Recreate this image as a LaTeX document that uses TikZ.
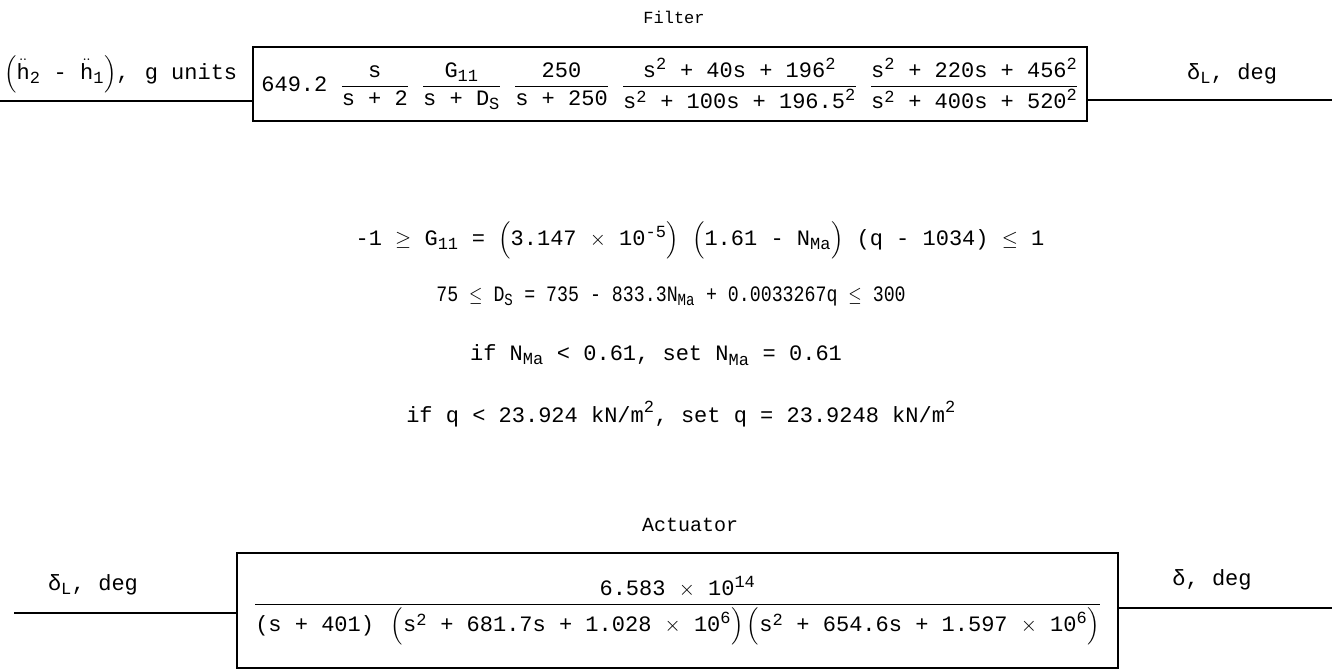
\documentclass[tikz,border=0pt]{standalone}
\usepackage{amsmath}
\usepackage{graphicx}
\usepackage{fontspec}
\setmainfont{Liberation Mono}
\DeclareMathSizes{22}{22}{17}{13}
\newcommand{\tx}[1]{\text{#1}}
\newcommand{\sqr}{^{\text{2}}}
\newcommand{\fgap}{\hspace{13pt}}
\tikzset{
  tw/.style={inner sep=0pt, font=\fontsize{22}{26}\selectfont},
  ttl/.style={inner sep=0pt, font=\fontsize{17}{20}\selectfont},
  ttlb/.style={inner sep=0pt, font=\fontsize{20}{24}\selectfont},
  blockbox/.style={draw, line width=1.3pt, inner sep=0pt, font=\fontsize{22}{26}\selectfont},
  wire/.style={line width=1.3pt},
}
\begin{document}
\begin{tikzpicture}[x=1pt,y=-1pt]
\useasboundingbox (0,0) rectangle (1332,671);
% Filter
\node[ttl] (filterlbl) at (674,17) {Filter};
\node[blockbox, minimum width=834pt, minimum height=74pt] (filter) at (670,84)
  {$\tx{649.2 }\dfrac{\tx{s}}{\tx{s + 2}}\fgap\dfrac{\tx{G}_{\tx{11}}}{\tx{s + D}_{\tx{S}}}\fgap\dfrac{\tx{250}}{\tx{s + 250}}\fgap
   \dfrac{\tx{s}\sqr\tx{ + 40s + 196}\sqr}{\tx{s}\sqr\tx{ + 100s + 196.5}\sqr}\fgap
   \dfrac{\tx{s}\sqr\tx{ + 220s + 456}\sqr}{\tx{s}\sqr\tx{ + 400s + 520}\sqr}$};
\coordinate (fin) at (0,101);
\coordinate (fout) at (1332,100);
\draw[wire] (fin) -- (fin -| filter.west);
\draw[wire] (fout -| filter.east) -- (fout);
\node[tw, anchor=south west] (finlbl) at (4,93) {$\left(\ddot{\tx{h}}_{\tx{2}}\tx{ - }\ddot{\tx{h}}_{\tx{1}}\right)$,\hspace{2pt} g units};
\node[tw] (foutlbl) at (1232,74) {δ$_{\tx{L}}$, deg};
% constraints
\node[tw] (c1) at (700,240) {$\tx{-1 }{\geq}\tx{ G}_{\tx{11}}\tx{ = }\Bigl(\tx{3.147 }{\times}\tx{ 10}^{\tx{-5}}\Bigr)\tx{ }\Bigl(\tx{1.61 - N}_{\tx{Ma}}\Bigr)\tx{ (q - 1034) }{\leq}\tx{ 1}$};
\node[tw] (c2) at (671,296) {\scalebox{0.83}[1]{$\tx{75 }{\leq}\tx{ D}_{\tx{S}}\tx{ = 735 - 833.3N}_{\tx{Ma}}\tx{ + 0.0033267q }{\leq}\tx{ 300}$}};
\node[tw] (c3) at (656,355) {$\tx{if N}_{\tx{Ma}}\tx{ < 0.61, set N}_{\tx{Ma}}\tx{ = 0.61}$};
\node[tw] (c4) at (681,414) {$\tx{if q < 23.924 kN/m}\sqr\tx{, set q = 23.9248 kN/m}\sqr$};
% Actuator
\node[ttlb] (actlbl) at (690,525) {Actuator};
\node[blockbox, minimum width=881pt, minimum height=115pt] (act) at (677.5,610.5)
  {$\dfrac{\tx{6.583 }{\times}\tx{ 10}^{\tx{14}}}{\tx{(s + 401) }\left(\tx{s}\sqr\tx{ + 681.7s + 1.028 }{\times}\tx{ 10}^{\tx{6}}\right)\left(\tx{s}\sqr\tx{ + 654.6s + 1.597 }{\times}\tx{ 10}^{\tx{6}}\right)}$};
\coordinate (ain) at (14,613);
\coordinate (aout) at (1332,608);
\draw[wire] (ain) -- (ain -| act.west);
\draw[wire] (aout -| act.east) -- (aout);
\node[tw] (ainlbl) at (93,585) {δ$_{\tx{L}}$, deg};
\node[tw] (aoutlbl) at (1212,580) {δ, deg};
\end{tikzpicture}
\end{document}
